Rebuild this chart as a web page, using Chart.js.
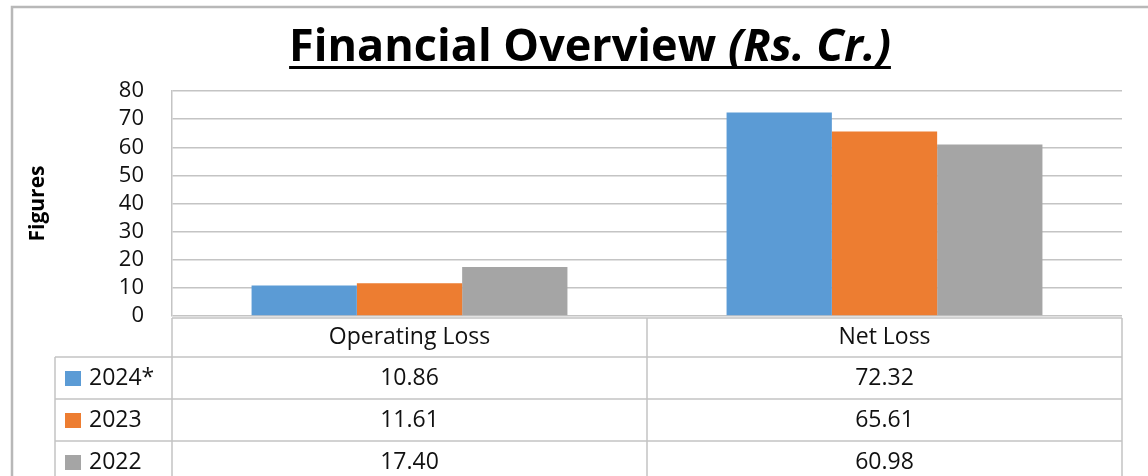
<!DOCTYPE html>
<html>
<head>
<meta charset="utf-8">
<script src="https://cdn.jsdelivr.net/npm/chart.js@4"></script>
<style>
html, body { margin: 0; padding: 0; background: #fff; }
#wrap { width: 1148px; height: 476px; }
</style>
</head>
<body>
<div id="wrap"><canvas id="chart"></canvas></div>
<script>
const categories = ['Operating Loss', 'Net Loss']
const years = ['2024*', '2023', '2022']
const values2024 = [10.86, 72.32]
const values2023 = [11.61, 65.61]
const values2022 = [17.40, 60.98]
const yTicks = [0, 10, 20, 30, 40, 50, 60, 70, 80]
const colors = ['#5b9bd5', '#ed7d31', '#a5a5a5']

const font = '"Open Sans"'
const gridColor = '#c4c4c4'

// outer frame of the chart object (cropped at right and bottom)
const framePlugin = {
    id: 'frame',
    beforeDraw(chart) {
        const ctx = chart.ctx
        ctx.save()
        ctx.strokeStyle = '#b8b8b8'
        ctx.lineWidth = 2.5
        ctx.beginPath()
        ctx.moveTo(12, 476)
        ctx.lineTo(12, 7)
        ctx.lineTo(1148, 7)
        ctx.stroke()
        ctx.restore()
    }
}

// title with italic unit part and underline
const titlePlugin = {
    id: 'ulTitle',
    afterDraw(chart) {
        const ctx = chart.ctx
        const part1 = 'Financial Overview '
        const part2 = '(Rs. Cr.)'
        const f1 = `bold 45px ${font}`
        const f2 = `italic bold 45px ${font}`
        ctx.save()
        ctx.fillStyle = '#000'
        ctx.textBaseline = 'alphabetic'
        ctx.font = f1
        const w1 = ctx.measureText(part1).width
        ctx.font = f2
        const w2 = ctx.measureText(part2).width
        const x0 = 590 - (w1 + w2) / 2
        const base = 61
        ctx.font = f1
        ctx.fillText(part1, x0, base)
        ctx.font = f2
        ctx.fillText(part2, x0 + w1, base)
        ctx.fillRect(x0, base + 5, w1 + w2, 3)
        ctx.restore()
    }
}

// data table under the plot, columns follow the category scale
const tablePlugin = {
    id: 'dataTable',
    afterDraw(chart) {
        const { ctx, chartArea } = chart
        const x = chart.scales.x
        const series = [values2024, values2023, values2022]
        const left = chartArea.left
        const right = chartArea.right
        const step = (right - left) / categories.length
        const top = chartArea.bottom + 2
        const headH = 39
        const rowH = 42
        const legendLeft = 55
        const bottom = top + headH + rowH * years.length

        ctx.save()
        ctx.strokeStyle = gridColor
        ctx.lineWidth = 1.5
        ctx.beginPath()
        ctx.moveTo(left, top); ctx.lineTo(right, top)
        for (let r = 0; r <= years.length; r++) {
            const y = top + headH + r * rowH
            ctx.moveTo(legendLeft, y); ctx.lineTo(right, y)
        }
        for (let c = 0; c <= categories.length; c++) {
            const cx = left + c * step
            ctx.moveTo(cx, top); ctx.lineTo(cx, bottom)
        }
        ctx.moveTo(legendLeft, top + headH); ctx.lineTo(legendLeft, bottom)
        ctx.stroke()

        ctx.fillStyle = '#111'
        ctx.font = `23px ${font}`
        ctx.textBaseline = 'middle'
        ctx.textAlign = 'center'
        categories.forEach((cat, i) => {
            ctx.fillText(cat, x.getPixelForValue(i), top + headH / 2)
        })
        years.forEach((yr, r) => {
            const cy = top + headH + r * rowH + rowH / 2
            ctx.fillStyle = colors[r]
            ctx.fillRect(legendLeft + 10, cy - 7, 16, 15)
            ctx.fillStyle = '#111'
            ctx.textAlign = 'left'
            ctx.fillText(yr, legendLeft + 34, cy)
            ctx.textAlign = 'center'
            series[r].forEach((v, i) => {
                ctx.fillText(v.toFixed(2), x.getPixelForValue(i), cy)
            })
        })
        ctx.restore()
    }
}

const data = {
    labels: categories,
    datasets: [values2024, values2023, values2022].map((vals, i) => ({
        label: years[i],
        data: vals,
        backgroundColor: colors[i],
        borderWidth: 0,
        barPercentage: 1,
        categoryPercentage: 0.665
    }))
}

const options = {
    responsive: true,
    maintainAspectRatio: false,
    animation: false,
    layout: { padding: { left: 12, right: 26, top: 91, bottom: 160 } },
    plugins: {
        legend: { display: false },
        title: { display: false },
        tooltip: { enabled: false }
    },
    scales: {
        x: {
            ticks: { display: false },
            grid: { display: false },
            border: { display: false },
            afterFit: scale => { scale.height = 0 }
        },
        y: {
            min: 0,
            max: 80,
            afterBuildTicks: scale => { scale.ticks = yTicks.map(v => ({ value: v })) },
            afterFit: scale => { scale.width = 160 },
            ticks: {
                autoSkip: false,
                color: '#111',
                font: { family: font, size: 22 },
                padding: 28
            },
            grid: { color: gridColor, lineWidth: 1.5, drawTicks: false },
            border: { color: gridColor, width: 1.5 },
            title: {
                display: true,
                text: 'Figures',
                color: '#000',
                font: { family: font, size: 21, weight: 'bold' },
                padding: { top: 13, bottom: 0 }
            }
        }
    }
}

new Chart('chart', { type: 'bar', data, options, plugins: [framePlugin, titlePlugin, tablePlugin] })
</script>
</body>
</html>
